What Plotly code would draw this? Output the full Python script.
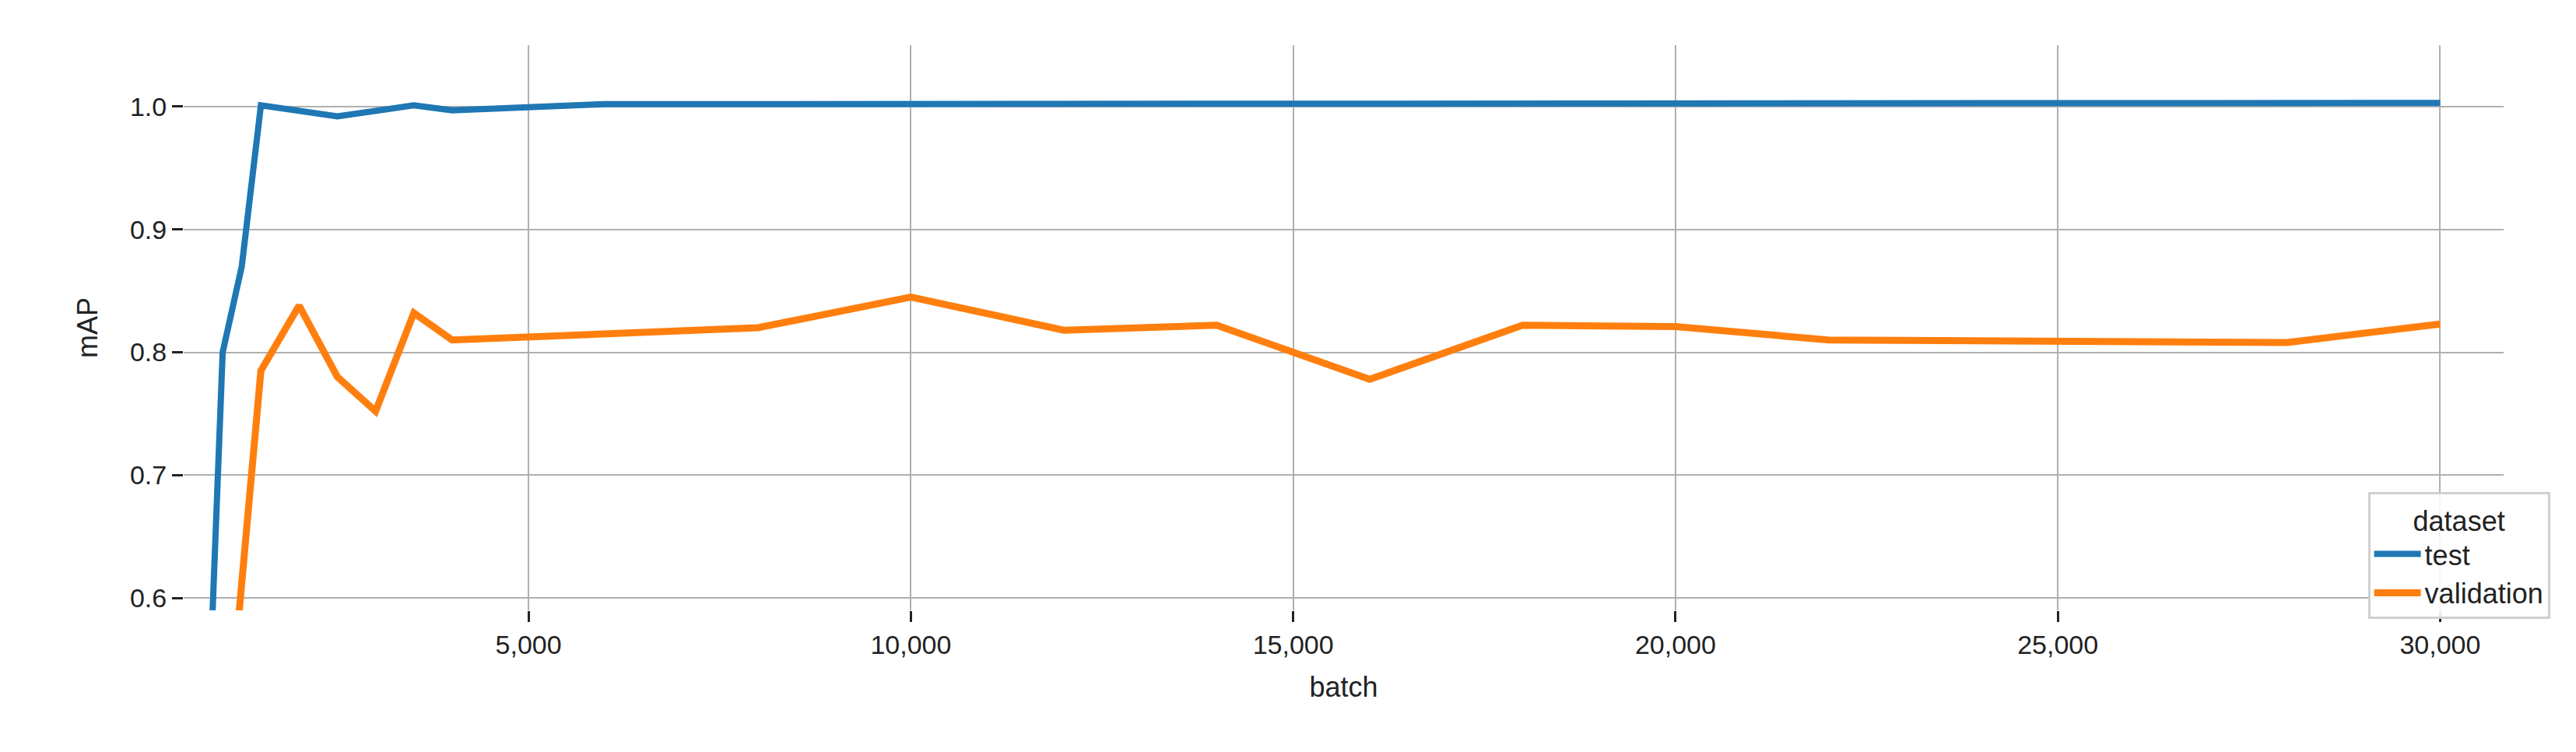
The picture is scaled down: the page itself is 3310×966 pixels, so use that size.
import plotly.graph_objects as go

# Data
test_batch = [500, 1000, 1250, 1500, 2500, 3500, 4000, 6000, 8000, 10000, 12000, 14000,
              16000, 18000, 20000, 22000, 24000, 26000, 28000, 30000]
test_map = [0.0, 0.80, 0.87, 1.001, 0.992, 1.001, 0.997, 1.002, 1.002, 1.002, 1.002, 1.002,
            1.002, 1.002, 1.002, 1.002, 1.002, 1.003, 1.003, 1.003]

val_batch = [1000, 1500, 2000, 2500, 3000, 3500, 4000, 8000, 10000, 12000, 14000,
             16000, 18000, 20000, 22000, 28000, 30000]
val_map = [0.44, 0.785, 0.838, 0.78, 0.752, 0.832, 0.81, 0.82, 0.845, 0.818, 0.822,
           0.778, 0.822, 0.821, 0.81, 0.808, 0.823]

fig = go.Figure()
fig.add_trace(go.Scatter(x=test_batch, y=test_map, mode='lines', name='test',
                         line=dict(color='#1f77b4', width=8)))
fig.add_trace(go.Scatter(x=val_batch, y=val_map, mode='lines', name='validation',
                         line=dict(color='#ff7f0e', width=9)))

axis_font = dict(family='Liberation Sans, Arial, sans-serif', size=34, color='#222')
fig.update_layout(
    width=3310, height=966,
    paper_bgcolor='white', plot_bgcolor='white',
    margin=dict(l=228, r=101, t=50, b=190),
    font=axis_font,
    showlegend=True,
    legend=dict(x=1.02, y=-0.015, xanchor='right', yanchor='bottom',
                title=dict(text='dataset', side='top center', font=dict(size=36)),
                bgcolor='rgba(255,255,255,0.9)', bordercolor='#d0d0d0', borderwidth=3,
                font=dict(size=36), itemwidth=60, tracegroupgap=20),
    xaxis=dict(title=dict(text='batch', standoff=24, font=dict(size=36)), range=[490, 30830],
               tickvals=[5000, 10000, 15000, 20000, 25000, 30000], tickformat=',d',
               showgrid=True, gridcolor='#b0b0b0', gridwidth=2, zeroline=False,
               showline=False, ticks='outside', ticklen=14, tickwidth=3, tickcolor='#222'),
    yaxis=dict(title=dict(text='mAP', standoff=30, font=dict(size=36)), range=[0.59, 1.05],
               tickvals=[0.6, 0.7, 0.8, 0.9, 1.0], tickformat='.1f',
               showgrid=True, gridcolor='#b0b0b0', gridwidth=2, zeroline=False,
               showline=False, ticks='outside', ticklen=14, tickwidth=3, tickcolor='#222'),
)

fig.write_html("out.html")
